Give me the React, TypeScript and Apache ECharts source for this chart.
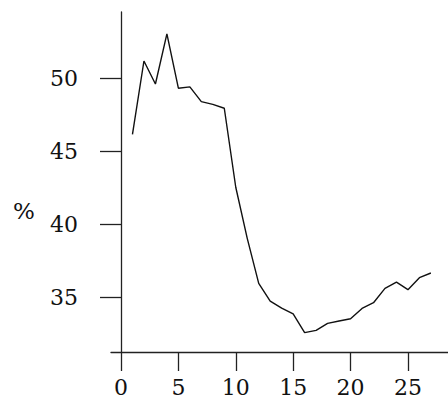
import React, { useEffect, useRef } from "react";
import * as echarts from "echarts";

const xValues = [1, 2, 3, 4, 5, 6, 7, 8, 9, 10, 11, 12, 13, 14, 15, 16, 17, 18, 19, 20, 21, 22, 23, 24, 25, 26, 27];
const yValues = [46.17, 51.18, 49.61, 53.03, 49.32, 49.41, 48.4, 48.22, 47.95, 42.55, 39.06, 35.98, 34.77, 34.29, 33.89, 32.61, 32.77, 33.25, 33.41, 33.56, 34.27, 34.66, 35.64, 36.07, 35.55, 36.37, 36.69];
const xTicks = [0, 5, 10, 15, 20, 25];
const yTicks = [35, 40, 45, 50];
const yName = "%";

const FONT = "DejaVu Serif";

export default function App() {
  const ref = useRef<HTMLDivElement>(null);
  useEffect(() => {
    if (!ref.current) return;
    const chart = echarts.init(ref.current, undefined, { renderer: "svg" });
    chart.setOption({
      animation: false,
      backgroundColor: "#ffffff",
      textStyle: { fontFamily: FONT },
      grid: { left: 111, top: 12, right: 0, bottom: 54, containLabel: false },
      xAxis: {
        type: "value",
        min: -0.87,
        max: 28.49,
        axisLine: { show: true, lineStyle: { color: "#222", width: 1.3 } },
        axisTick: { show: true, length: 19, customValues: xTicks, lineStyle: { color: "#222", width: 1.3 } },
        axisLabel: { show: true, customValues: xTicks, margin: 24, fontSize: 22, fontFamily: FONT, color: "#111" },
        splitLine: { show: false },
      },
      yAxis: {
        type: "value",
        min: 31.29,
        max: 54.53,
        axisLine: { show: true, lineStyle: { color: "#222", width: 1.3 } },
        axisTick: { show: true, length: 21, customValues: yTicks, lineStyle: { color: "#222", width: 1.3 } },
        axisLabel: { show: true, customValues: yTicks, margin: 33, fontSize: 22, fontFamily: FONT, color: "#111" },
        splitLine: { show: false },
      },
      graphic: [
        {
          type: "text",
          x: 24,
          y: 211,
          style: { text: yName, fontSize: 23, fontFamily: FONT, fill: "#111", align: "center", verticalAlign: "middle" },
        },
      ],
      series: [
        {
          type: "line",
          data: xValues.map((x, i) => [x, yValues[i]]),
          showSymbol: false,
          lineStyle: { color: "#111", width: 1.4 },
        },
      ],
    });
    return () => chart.dispose();
  }, []);
  return <div ref={ref} style={{ width: 448, height: 406, position: "absolute", left: 0, top: 0 }} />;
}
